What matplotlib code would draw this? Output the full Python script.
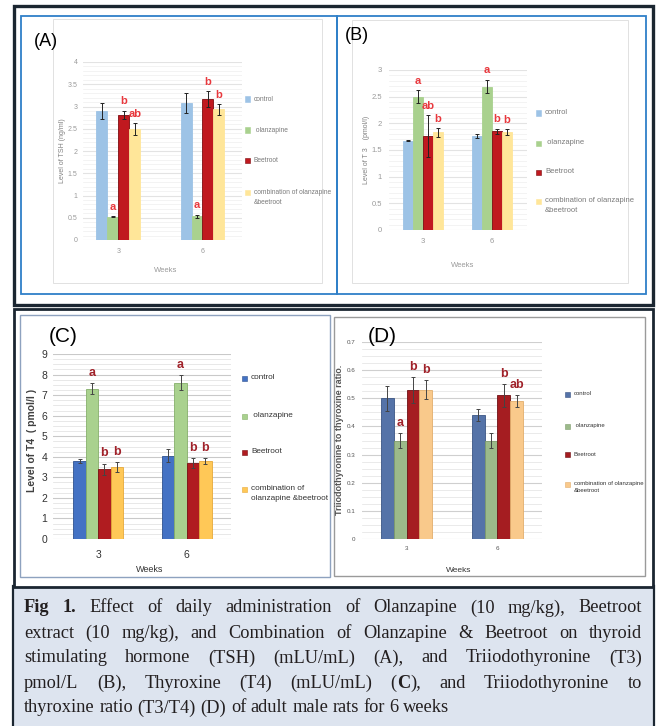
import matplotlib
matplotlib.use('Agg')
import numpy as np
from matplotlib import pyplot as plt
from matplotlib.patches import Rectangle
from matplotlib.ticker import MultipleLocator

W, H = 657, 726

weeks = ['3', '6']
treatments = ['control', ' olanzapine', 'Beetroot', 'combination of olanzapine\n&beetroot']
treatments_c = ['control', ' olanzapine', 'Beetroot', 'combination of\nolanzapine &beetroot']

# rows: control, olanzapine, beetroot, combination ; columns: week 3, week 6
tsh_mean = [[2.90, 3.08], [0.52, 0.53], [2.81, 3.17], [2.49, 2.94]]
tsh_err = [[0.17, 0.23], [0.01, 0.04], [0.10, 0.18], [0.13, 0.12]]
tsh_letters = [['', ''], ['a', 'a'], ['b', 'b'], ['ab', 'b']]

t3_mean = [[1.67, 1.76], [2.50, 2.69], [1.76, 1.85], [1.83, 1.84]]
t3_err = [[0.01, 0.04], [0.12, 0.13], [0.40, 0.05], [0.08, 0.05]]
t3_letters = [['', ''], ['a', 'a'], ['ab', 'b'], ['b', 'b']]

t4_mean = [[3.78, 4.06], [7.32, 7.60], [3.40, 3.70], [3.50, 3.80]]
t4_err = [[0.09, 0.30], [0.25, 0.36], [0.27, 0.24], [0.25, 0.13]]
t4_letters = [['', ''], ['a', 'a'], ['b', 'b'], ['b', 'b']]

ratio_mean = [[0.50, 0.44], [0.35, 0.35], [0.53, 0.51], [0.53, 0.49]]
ratio_err = [[0.045, 0.022], [0.025, 0.027], [0.045, 0.040], [0.034, 0.022]]
ratio_letters = [['', ''], ['a', ''], ['b', 'b'], ['b', 'ab']]

caption = [
    '*Fig* *1.* Effect of daily administration of Olanzapine (10 mg/kg), Beetroot',
    'extract (10 mg/kg), and Combination of Olanzapine & Beetroot on thyroid',
    'stimulating hormone (TSH) (mLU/mL) (A), and Triiodothyronine (T3)',
    'pmol/L (B), Thyroxine (T4) (mLU/mL) (*C*), and Triiodothyronine to',
    'thyroxine ratio (T3/T4) (D) of adult male rats for 6 weeks',
]


def fx(x):
    return x / W


def fy(y):
    return 1 - y / H


def rect(x0, y0, x1, y1):
    return [x0 / W, 1 - y1 / H, (x1 - x0) / W, (y1 - y0) / H]


def box(fig, x0, y0, x1, y1, color, lw, fill=None):
    fig.add_artist(Rectangle((fx(x0), fy(y1)), (x1 - x0) / W, (y1 - y0) / H,
                             transform=fig.transFigure, fill=fill is not None,
                             fc=fill if fill else 'none', ec=color, lw=lw))


def panel(fig, pos, means, errs, letters, colors, edges, width, xlim, ylim,
          major, minor, grid_c, tick_c, tick_fs, letter_c, letter_fs, err_c, ypad):
    ax = fig.add_axes(rect(*pos))
    ax.set_facecolor('none')
    x = np.arange(len(weeks))
    for i in range(4):
        off = (i - 1.5) * width
        ax.bar(x + off, means[i], width, yerr=errs[i], color=colors[i],
               edgecolor=edges[i], lw=0.6, zorder=3,
               error_kw=dict(ecolor=err_c, elinewidth=0.7, capsize=1.6, capthick=0.7))
        for j in range(len(weeks)):
            if letters[i][j]:
                ax.annotate(letters[i][j], (x[j] + off, means[i][j] + errs[i][j]),
                            xytext=(0, 3), textcoords='offset points',
                            ha='center', va='bottom', color=letter_c,
                            fontsize=letter_fs, fontweight='bold', zorder=4)
    ax.set_xlim(*xlim)
    ax.set_ylim(*ylim)
    ax.yaxis.set_major_locator(MultipleLocator(major))
    ax.yaxis.set_minor_locator(MultipleLocator(minor))
    ax.yaxis.set_major_formatter(lambda v, p: f'{v:g}')
    ax.grid(axis='y', which='major', color=grid_c, lw=0.8, zorder=0)
    ax.grid(axis='y', which='minor', color=grid_c, lw=0.5, alpha=0.6, zorder=0)
    ax.set_xticks(x)
    ax.set_xticklabels(weeks)
    ax.tick_params(which='both', length=0, labelsize=tick_fs, labelcolor=tick_c)
    ax.tick_params(axis='x', pad=tick_fs * 1.1)
    ax.tick_params(axis='y', pad=ypad)
    for s in ax.spines.values():
        s.set_visible(False)
    return ax


def legend(fig, mx, ys, labels, colors, edges, fs, color, size=5):
    for y, lab, c, e in zip(ys, labels, colors, edges):
        fig.add_artist(Rectangle((fx(mx - size / 2), fy(y + size / 2)), size / W, size / H,
                                 transform=fig.transFigure, fc=c, ec=e, lw=0.4))
        fig.text(fx(mx + 7), fy(y - fs * 0.7), lab, fontsize=fs, color=color, va='top',
                 ha='left', linespacing=1.6)


def parse(line):
    words = []
    for w in line.split(' '):
        parts = w.split('*')
        words.append([(p, k % 2 == 1) for k, p in enumerate(parts) if p])
    return words


def draw_caption(fig, lines, x0, x1, y_first, step, size):
    renderer = fig.canvas.get_renderer()
    probe = fig.text(0, 0, 'a a', fontsize=size, family='Liberation Serif')
    probe2 = fig.text(0, 0, 'aa', fontsize=size, family='Liberation Serif')
    space = probe.get_window_extent(renderer).width - probe2.get_window_extent(renderer).width
    probe.remove()
    probe2.remove()
    for i, line in enumerate(lines):
        y = fy(y_first + i * step)
        words = parse(line)
        pieces, widths = [], []
        for word in words:
            arts, total = [], 0
            for text, bold in word:
                t = fig.text(0, y, text, fontsize=size, family='Liberation Serif',
                             fontweight='bold' if bold else 'normal', va='center',
                             color='#231f20')
                w = t.get_window_extent(renderer).width
                arts.append((t, w))
                total += w
            pieces.append(arts)
            widths.append(total)
        if i < len(lines) - 1:
            gap = (x1 - x0 - sum(widths)) / (len(words) - 1)
        else:
            gap = space
        xpos = x0
        for arts in pieces:
            for t, w in arts:
                t.set_x(fx(xpos))
                xpos += w
            xpos += gap


def main():
    fig = plt.figure(figsize=(W / 100, H / 100), dpi=100)
    fig.patch.set_facecolor('white')
    plt.rcParams['font.family'] = ['Liberation Sans', 'DejaVu Sans']

    # frames
    box(fig, 13, 588, 653, 727, 'none', 0, fill='#dde4ef')
    fig.add_artist(plt.Line2D([fx(12.5), fx(12.5)], [fy(586), fy(726)], color='#1b2631', lw=1.6,
                              transform=fig.transFigure))
    fig.add_artist(plt.Line2D([fx(653.5), fx(653.5)], [fy(586), fy(726)], color='#1b2631', lw=1.6,
                              transform=fig.transFigure))
    box(fig, 13.5, 6, 653, 305, '#1b2631', 2.4)
    box(fig, 13.5, 309, 653, 586.5, '#1b2631', 2.0)
    box(fig, 21, 16, 337, 294, '#2f7fc8', 1.3)
    box(fig, 337, 16, 646, 294, '#2f7fc8', 1.3)
    box(fig, 53, 19, 322, 283, '#dcdcdc', 0.6)
    box(fig, 352, 20, 628, 283, '#dcdcdc', 0.6)
    box(fig, 20, 315, 330, 577, '#8ea2bf', 1.0)
    box(fig, 334, 317, 645, 576, '#9a9a9a', 1.0)

    # (A) TSH
    ca = ['#9dc3e6', '#a9d18e', '#c0191f', '#ffe699']
    ea = ['#9dc3e6', '#a9d18e', '#7d0c10', '#ffe699']
    panel(fig, (83, 62, 242, 240), tsh_mean, tsh_err, tsh_letters, ca, ea, 0.13,
          (-0.42, 1.47), (0, 4), 0.5, 0.1, '#e3e3e3', '#9a9a9a', 5, '#e8383d', 8, '#222222', 4)
    fig.text(fx(63), fy(151), 'Level of TSH (ng/ml)', rotation=90, fontsize=5, color='#808080',
             ha='center', va='center')
    fig.text(fx(166), fy(270), 'Weeks', fontsize=5.5, color='#9a9a9a', ha='center', va='center')
    fig.text(fx(34), fy(42), '(A)', fontsize=13, ha='left', va='center')
    legend(fig, 247, [99, 130, 160, 192], treatments, ca, ea, 4.8, '#7a7a7a')

    # (B) T3
    panel(fig, (389, 70, 527, 230), t3_mean, t3_err, t3_letters, ca, ea, 0.145,
          (-0.49, 1.51), (0, 3), 0.5, 0.1, '#e3e3e3', '#9a9a9a', 5.5, '#e8383d', 8, '#222222', 5)
    fig.text(fx(366), fy(150), 'Level of T 3    (pmol/l)', rotation=90, fontsize=5, color='#808080',
             ha='center', va='center')
    fig.text(fx(463), fy(265), 'Weeks', fontsize=5.5, color='#9a9a9a', ha='center', va='center')
    fig.text(fx(345), fy(35), '(B)', fontsize=13, ha='left', va='center')
    legend(fig, 538, [113, 143, 172, 201], treatments, ca, ea, 5.5, '#7a7a7a')

    # (C) T4
    cc = ['#4472c4', '#a9d18e', '#b01c20', '#ffc857']
    ec = ['#2f528f', '#86b06a', '#7a0f12', '#e6a93a']
    panel(fig, (53, 354, 231, 539), t4_mean, t4_err, t4_letters, cc, ec, 0.14,
          (-0.51, 1.5), (0, 9), 1, 0.25, '#c9c9c9', '#333333', 7.5, '#a0222a', 9, '#444444', 4)
    fig.text(fx(32), fy(440), 'Level of T4  ( pmol/l )', rotation=90, fontsize=7.5, color='#404040',
             fontweight='bold', ha='center', va='center')
    fig.text(fx(150), fy(570), 'Weeks', fontsize=6.5, color='#333333', ha='center', va='center')
    fig.text(fx(49), fy(336), '(C)', fontsize=15, ha='left', va='center')
    legend(fig, 244, [378, 416, 452, 489], treatments_c, cc, ec, 5.9, '#333333')

    # (D) T3/T4
    cd = ['#5573a8', '#9cba8a', '#a51d21', '#f9c98b']
    ed = ['#3b5585', '#7e9c6c', '#6e1014', '#e3ae6c']
    panel(fig, (362, 342, 542, 539), ratio_mean, ratio_err, ratio_letters, cd, ed, 0.14,
          (-0.49, 1.49), (0, 0.7), 0.1, 0.025, '#cfcfcf', '#555555', 4.5, '#a0222a', 9, '#444444', 5)
    fig.text(fx(340), fy(440), 'Triiodothyronine to thyroxine ratio.', rotation=90, fontsize=6.5,
             color='#555555', fontweight='bold', ha='center', va='center')
    fig.text(fx(459), fy(570), 'Weeks', fontsize=6, color='#333333', ha='center', va='center')
    fig.text(fx(368), fy(337), '(D)', fontsize=15, ha='left', va='center')
    legend(fig, 567, [394, 426, 455, 484], treatments, cd, ed, 4.3, '#333333')

    draw_caption(fig, caption, 24, 642, 608, 25, 13.2)

    fig.savefig('out.png', dpi=100)


if __name__ == '__main__':
    main()
